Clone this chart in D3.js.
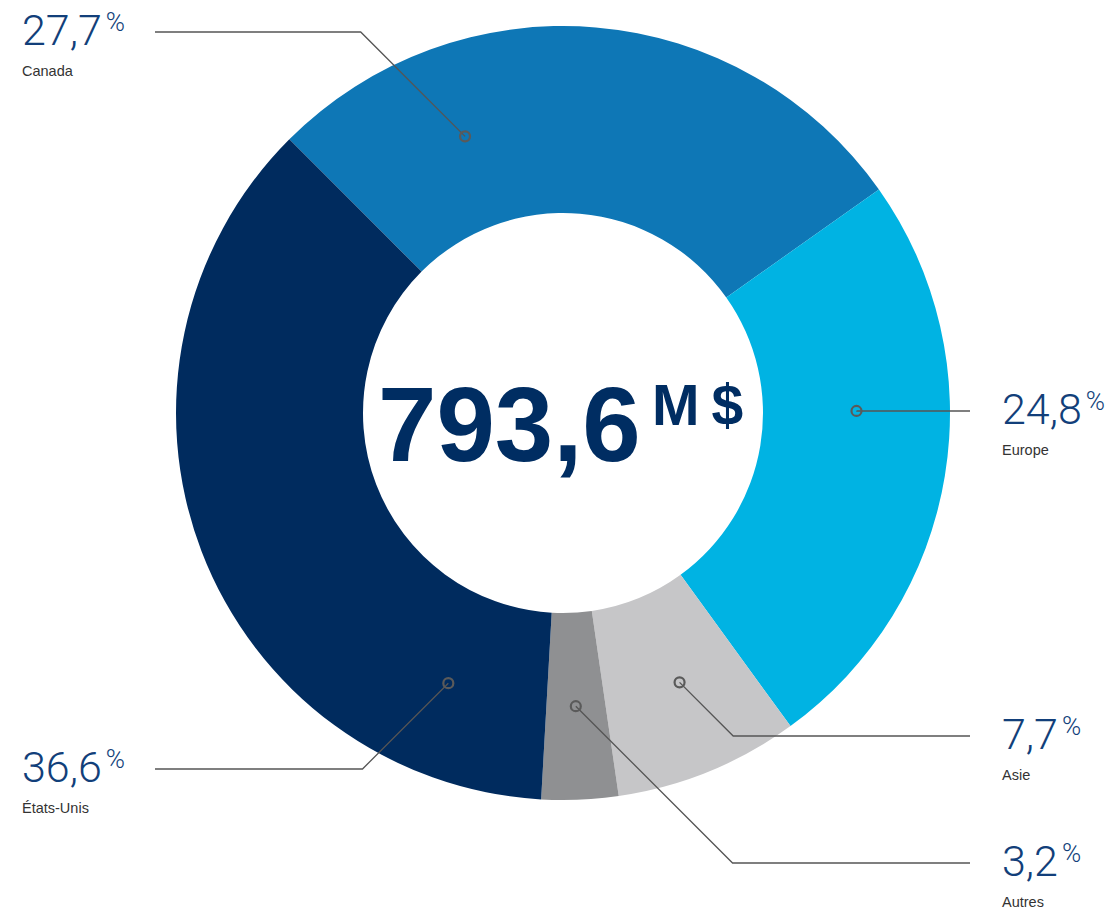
<!DOCTYPE html>
<html>
<head>
<meta charset="utf-8">
<script src="https://cdn.jsdelivr.net/npm/d3@7"></script>
<style>
	html, body { margin: 0; background: #fff; }
	svg { display: block; }
	.pct { font-family: Roboto, "Liberation Sans", sans-serif; font-weight: 300; fill: #123f7a; }
	.cat { font-family: "Liberation Sans", Arial, sans-serif; font-size: 14.5px; fill: #333; }
	.total { font-family: "Liberation Sans", Arial, sans-serif; font-weight: bold; fill: #002d62; }
</style>
</head>
<body>
<script>
// Data
const categories = ['Canada', 'Europe', 'Asie', 'Autres', 'États-Unis']
const shares = [27.7, 24.8, 7.7, 3.2, 36.6]
const shareLabels = ['27,7', '24,8', '7,7', '3,2', '36,6']
const totalLabel = '793,6'
const totalUnit = 'M$'

const colors = ['#0e77b6', '#00b3e3', '#c6c6c8', '#8f9092', '#002b5e']

// Callout layout: marker angle on the ring (degrees) and the y of the label line
const markerAngle = [-19.5, 89.6, 156.6, 177.5, 203]
const lineY = [32, 411, 736, 863, 769]

const width = 1107, height = 909
const cx = 563, cy = 413
const outerR = 387, innerR = 200
const midR = (outerR + innerR) / 2

const svg = d3.select('body').append('svg').attr('width', width).attr('height', height)

const pie = d3.pie().sort(null).startAngle(-Math.PI / 4).endAngle(Math.PI * 7 / 4)
const arc = d3.arc().innerRadius(innerR).outerRadius(outerR)

const arcs = pie(shares)

const g = svg.append('g').attr('transform', `translate(${cx},${cy})`)
g.selectAll('path')
	.data(arcs)
	.enter()
	.append('path')
	.attr('d', arc)
	.attr('fill', (d, i) => colors[i])

// Callouts
const callouts = svg.append('g')
categories.forEach((name, i) => {
	const a = markerAngle[i] * Math.PI / 180
	const mx = cx + midR * Math.sin(a)
	const my = cy - midR * Math.cos(a)
	const right = mx > cx
	const dy = Math.abs(lineY[i] - my)
	const ex = right ? mx + dy : mx - dy
	const endX = right ? 970 : 155
	const textX = right ? 1002 : 22

	callouts.append('polyline')
		.attr('points', [[mx, my], [ex, lineY[i]], [endX, lineY[i]]].map(p => p.join(',')).join(' '))
		.attr('fill', 'none')
		.attr('stroke', '#555')
		.attr('stroke-width', 1.3)

	callouts.append('circle')
		.attr('cx', mx)
		.attr('cy', my)
		.attr('r', 5)
		.attr('fill', 'none')
		.attr('stroke', '#5a5a5a')
		.attr('stroke-width', 2.2)

	const t = callouts.append('text')
		.attr('class', 'pct')
		.attr('x', textX)
		.attr('y', lineY[i] + 13)
		.style('font-size', '43px')
	t.append('tspan').text(shareLabels[i])
	t.append('tspan').attr('dx', 4).attr('dy', -14).style('font-size', '26px').text('%')

	callouts.append('text')
		.attr('class', 'cat')
		.attr('x', textX)
		.attr('y', lineY[i] + 44)
		.text(name)
})

// Central total
svg.append('text')
	.attr('class', 'total')
	.attr('x', 378)
	.attr('y', 461)
	.style('font-size', '105px')
	.text(totalLabel)

svg.append('text')
	.attr('class', 'total')
	.attr('x', 652)
	.attr('y', 425)
	.style('font-size', '57px')
	.style('letter-spacing', '12px')
	.text(totalUnit)
</script>
</body>
</html>
